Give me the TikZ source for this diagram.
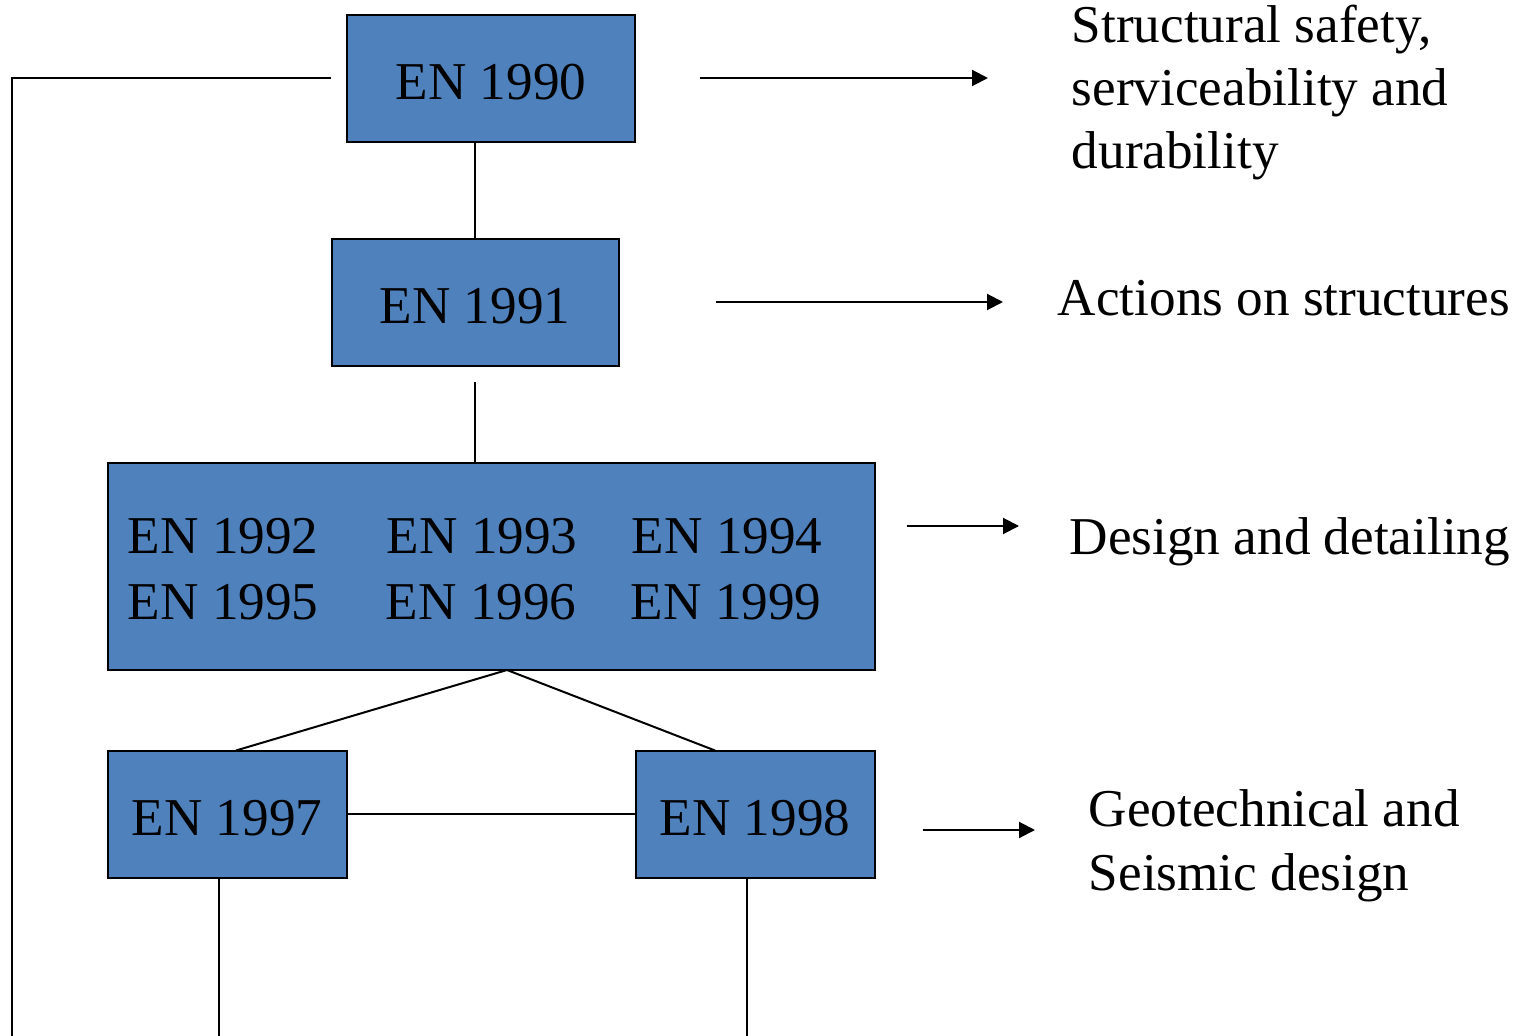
\documentclass[tikz,border=0pt]{standalone}
\usepackage{fontspec}
\newfontfamily\tnr{Liberation Serif}
\usetikzlibrary{arrows.meta}
\definecolor{boxblue}{HTML}{4F81BD}
\begin{document}
\begin{tikzpicture}[x=0.25pt,y=-0.25pt,
  box/.style={draw=black,line width=0.5pt,fill=boxblue,inner sep=0pt},
  code/.style={anchor=base,inner sep=0pt,font=\tnr\fontsize{13.3}{15.75}\selectfont},
  codew/.style={anchor=base west,inner sep=0pt,font=\tnr\fontsize{13.3}{15.75}\selectfont},
  note/.style={anchor=base west,inner sep=0pt,font=\tnr\fontsize{13.3}{15.75}\selectfont},
  link/.style={line width=0.5pt},
  flow/.style={line width=0.5pt,-{Triangle[length=4pt,width=4pt]}}]
\useasboundingbox (0,0) rectangle (1520,1036);

% boxes
\node[box,minimum width=72pt,minimum height=31.75pt] (b90) at (491,78.5) {};
\node[box,minimum width=71.75pt,minimum height=31.75pt] (b91) at (475.5,302.5) {};
\node[box,minimum width=191.75pt,minimum height=51.75pt] (bgrp) at (491.5,566.5) {};
\node[box,minimum width=59.75pt,minimum height=31.75pt] (b97) at (227.5,814.5) {};
\node[box,minimum width=59.75pt,minimum height=31.75pt] (b98) at (755.5,814.5) {};

% box texts
\node[code] (t90) at (491,100) {EN 1990};
\node[code] (t91) at (475,324) {EN 1991};
\node[codew] (t92) at (127,554) {EN 1992};
\node[codew] (t93) at (386,554) {EN 1993};
\node[codew] (t94) at (631,554) {EN 1994};
\node[codew] (t95) at (127,619) {EN 1995};
\node[codew] (t96) at (385,619) {EN 1996};
\node[codew] (t99) at (630,619) {EN 1999};
\node[code] (t97) at (227,835) {EN 1997};
\node[code] (t98) at (755,835) {EN 1998};

% descriptions, one node per line
\node[note] (d90a) at (1071,43) {Structural safety,};
\node[note] (d90b) at (1071,106) {serviceability and};
\node[note] (d90c) at (1071,169) {durability};
\node[note] (d91) at (1057,316) {Actions on structures};
\node[note] (dgrp) at (1069,555) {Design and detailing};
\node[note] (d97a) at (1088,826) {Geotechnical and};
\node[note] (d97b) at (1088,890) {Seismic design};

% free ends of the connectors
\coordinate (fbstart) at (331,78);
\coordinate (fbcorner) at (12,78);
\coordinate (fbend) at (12,1036);
\coordinate (l91) at (475,382);
\coordinate (apex) at (507,670);
\coordinate (e97) at (219,1036);
\coordinate (e98) at (747,1036);
\coordinate (a90s) at (700,78);  \coordinate (a90e) at (988,78);
\coordinate (a91s) at (716,302); \coordinate (a91e) at (1003,302);
\coordinate (ags) at (907,526);  \coordinate (age) at (1019,526);
\coordinate (a97s) at (923,830); \coordinate (a97e) at (1035,830);

% connectors
\draw[link] (fbstart) -- (fbcorner) -- (fbend);
\draw[link] (b90.south -| t91) -- (b91.north -| t91);
\draw[link] (l91) -- (bgrp.north -| l91);
\draw[link] (apex) -- (236,750.5);
\draw[link] (apex) -- (715,750.5);
\draw[link] (b97.east |- 0,814) -- (b98.west |- 0,814);
\draw[link] (b97.south -| e97) -- (e97);
\draw[link] (b98.south -| e98) -- (e98);

% arrows to descriptions
\draw[flow] (a90s) -- (a90e);
\draw[flow] (a91s) -- (a91e);
\draw[flow] (ags) -- (age);
\draw[flow] (a97s) -- (a97e);
\end{tikzpicture}
\end{document}
